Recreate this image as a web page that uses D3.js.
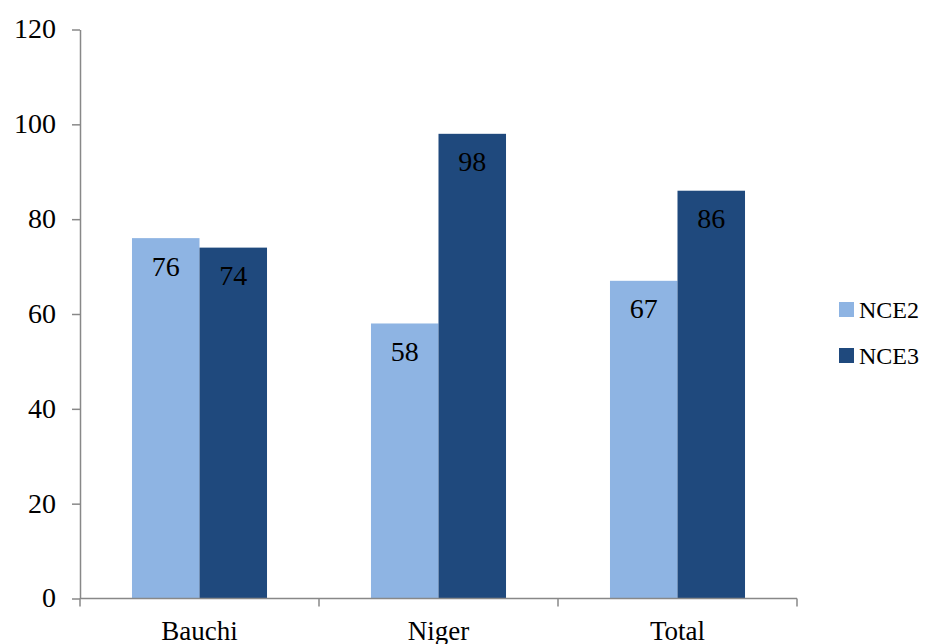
<!DOCTYPE html>
<html><head><meta charset="utf-8">
<script src="https://cdn.jsdelivr.net/npm/d3@7"></script>
<style>
body{margin:0;background:#fff;}
text{font-family:"Liberation Serif",serif;fill:#000;}
</style></head>
<body>
<svg id="chart" width="925" height="644"></svg>
<script>
const categories = ["Bauchi", "Niger", "Total"];
const seriesNames = ["NCE2", "NCE3"];
const nce2 = [76, 58, 67];
const nce3 = [74, 98, 86];
const yTicks = [0, 20, 40, 60, 80, 100, 120];
const colors = ["#8EB4E3", "#1F497D"];

const svg = d3.select("#chart");
const mLeft = 80, mRight = 797, mTop = 29.5, mBottom = 598.5;
const axisColor = "#888888";
const fs = 28;

const y = d3.scaleLinear().domain([0, 120]).range([mBottom, mTop]);
const x0 = d3.scaleBand().domain(categories).range([mLeft, mRight]).padding(0);
const x1 = d3.scaleBand().domain(seriesNames).range([0, x0.bandwidth()]).paddingInner(0).paddingOuter(0.77);

const values = [nce2, nce3];
const data = categories.map((c, i) => ({cat: c, vals: seriesNames.map((s, j) => ({s, v: values[j][i], j}))}));

// bars
const g = svg.append("g");
const groups = g.selectAll("g.cat").data(data).join("g")
  .attr("transform", d => `translate(${x0(d.cat)},0)`);
groups.selectAll("rect").data(d => d.vals).join("rect")
  .attr("x", d => x1(d.s))
  .attr("width", x1.bandwidth())
  .attr("y", d => y(d.v))
  .attr("height", d => y(0) - y(d.v))
  .attr("fill", d => colors[d.j]);
groups.selectAll("text").data(d => d.vals).join("text")
  .attr("x", d => x1(d.s) + x1.bandwidth() / 2)
  .attr("y", d => y(d.v) + 37.5)
  .attr("text-anchor", "middle")
  .style("font-size", fs + "px")
  .text(d => d.v);

// y axis
const yAxis = svg.append("g").attr("transform", `translate(${mLeft},0)`)
  .call(d3.axisLeft(y).tickValues(yTicks).tickSize(8).tickPadding(16).tickSizeOuter(0));
yAxis.attr("font-family", null).attr("font-size", null);
yAxis.select(".domain").attr("stroke", axisColor).attr("stroke-width", 1.5);
yAxis.selectAll(".tick line").attr("stroke", axisColor).attr("stroke-width", 1.5);
yAxis.selectAll(".tick text").style("font-size", fs + "px").attr("fill", "#000").attr("dy", "0.3em");

// x axis
const xAxisG = svg.append("g").attr("transform", `translate(0,${mBottom})`);
xAxisG.append("line").attr("x1", mLeft).attr("x2", mRight).attr("stroke", axisColor).attr("stroke-width", 1.5);
const boundaries = categories.map(c => x0(c)).concat([mRight]);
xAxisG.selectAll("line.tk").data(boundaries).join("line").attr("class", "tk")
  .attr("x1", d => d).attr("x2", d => d).attr("y1", 0).attr("y2", 8)
  .attr("stroke", axisColor).attr("stroke-width", 1.5);
xAxisG.selectAll("text").data(categories).join("text")
  .attr("x", d => x0(d) + x0.bandwidth() / 2)
  .attr("y", 41)
  .attr("text-anchor", "middle")
  .style("font-size", "27px")
  .text(d => d);

// legend
const legend = svg.append("g");
const lg = legend.selectAll("g").data(seriesNames).join("g")
  .attr("transform", (d, i) => `translate(839,${302 + i * 46})`);
lg.append("rect").attr("width", 15).attr("height", 15).attr("fill", (d, i) => colors[i]);
lg.append("text").attr("x", 20).attr("y", 16).style("font-size", "24px").text(d => d);
</script>
</body></html>
